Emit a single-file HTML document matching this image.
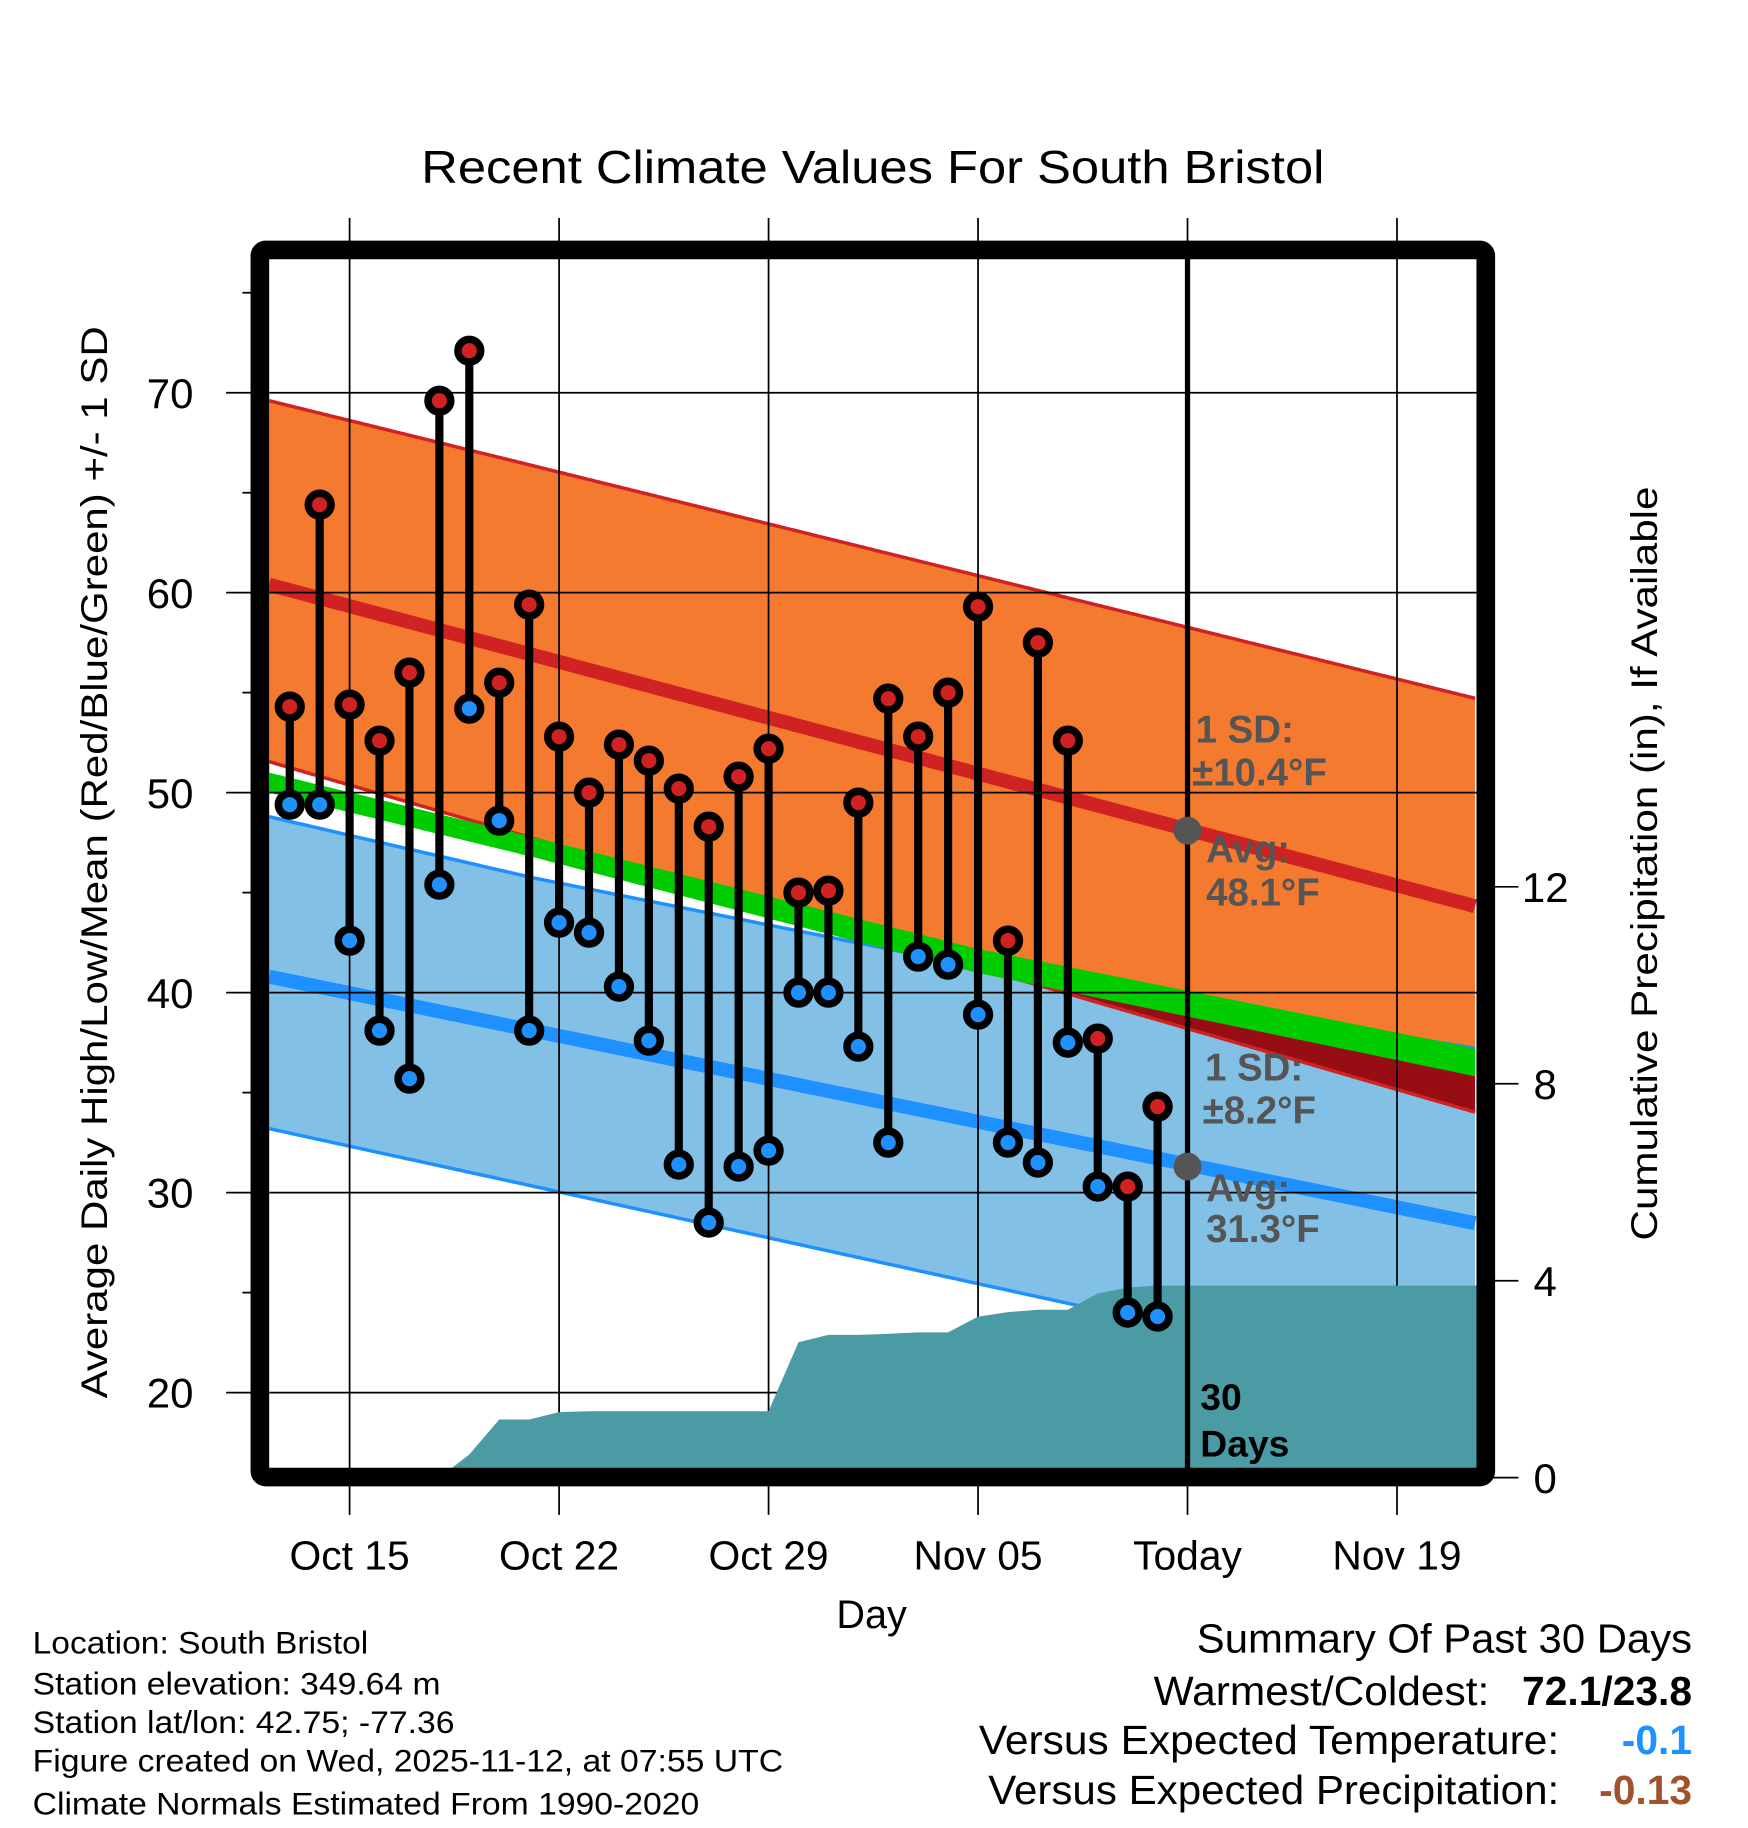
<!DOCTYPE html>
<html><head><meta charset="utf-8"><title>Recent Climate Values For South Bristol</title>
<style>
html,body{margin:0;padding:0;background:#fff;}
svg{display:block;}
text{font-family:"Liberation Sans",Arial,sans-serif;}
</style></head>
<body>
<svg id="chart" width="1748" height="1828" viewBox="0 0 1500 1568.66" xmlns="http://www.w3.org/2000/svg">
<defs><clipPath id="plotclip"><rect x="231" y="222" width="1036" height="1038"/></clipPath></defs>
<rect x="0" y="0" width="1500" height="1569" fill="#fff"/>
<text x="749" y="157" font-size="40" text-anchor="middle" textLength="775" lengthAdjust="spacingAndGlyphs">Recent Climate Values For South Bristol</text>
<g id="bands" clip-path="url(#plotclip)"></g>
<g id="grid" clip-path="url(#plotclip)"></g>
<g id="precip" clip-path="url(#plotclip)"></g>
<g id="axes"></g>
<g id="marks" clip-path="url(#plotclip)"></g>
<g id="annot">
 <g fill="#555" font-weight="bold" font-size="33">
  <text x="1026" y="637">1 SD:</text>
  <text x="1023" y="674">±10.4°F</text>
  <text x="1035" y="740">Avg:</text>
  <text x="1035" y="777">48.1°F</text>
  <text x="1034" y="927">1 SD:</text>
  <text x="1032" y="964">±8.2°F</text>
  <text x="1035" y="1031">Avg:</text>
  <text x="1035" y="1066">31.3°F</text>
 </g>
 <text x="1030" y="1210" font-size="32" font-weight="bold">30</text>
 <text x="1030" y="1250" font-size="32" font-weight="bold">Days</text>
</g>
<rect x="223" y="214.5" width="1052" height="1053" rx="5" fill="none" stroke="#000" stroke-width="16"/>
<text x="748" y="1397" font-size="34" text-anchor="middle">Day</text>
<text transform="translate(92,740) rotate(-90)" font-size="32" text-anchor="middle" textLength="920" lengthAdjust="spacingAndGlyphs">Average Daily High/Low/Mean (Red/Blue/Green) +/- 1 SD</text>
<text transform="translate(1422,741) rotate(-90)" font-size="32" text-anchor="middle" textLength="647" lengthAdjust="spacingAndGlyphs">Cumulative Precipitation (in), If Available</text>
<g font-size="27">
 <text x="28" y="1419" textLength="288" lengthAdjust="spacingAndGlyphs">Location: South Bristol</text>
 <text x="28" y="1454" textLength="350" lengthAdjust="spacingAndGlyphs">Station elevation: 349.64 m</text>
 <text x="28" y="1487" textLength="362" lengthAdjust="spacingAndGlyphs">Station lat/lon: 42.75; -77.36</text>
 <text x="28" y="1520" textLength="644" lengthAdjust="spacingAndGlyphs">Figure created on Wed, 2025-11-12, at 07:55 UTC</text>
 <text x="28" y="1557" textLength="572" lengthAdjust="spacingAndGlyphs">Climate Normals Estimated From 1990-2020</text>
</g>
<g font-size="35">
 <text x="1452" y="1418" text-anchor="end" textLength="425" lengthAdjust="spacingAndGlyphs">Summary Of Past 30 Days</text>
 <text x="1278" y="1463" text-anchor="end" textLength="288" lengthAdjust="spacingAndGlyphs">Warmest/Coldest:</text>
 <text x="1452" y="1463" text-anchor="end" font-weight="bold">72.1/23.8</text>
 <text x="1338" y="1505" text-anchor="end" textLength="498" lengthAdjust="spacingAndGlyphs">Versus Expected Temperature:</text>
 <text x="1452" y="1505" text-anchor="end" font-weight="bold" fill="#1e90ff">-0.1</text>
 <text x="1338" y="1548" text-anchor="end" textLength="490" lengthAdjust="spacingAndGlyphs">Versus Expected Precipitation:</text>
 <text x="1452" y="1548" text-anchor="end" font-weight="bold" fill="#a0522d">-0.13</text>
</g>
</svg>
<script>
// ---- data ----
const dayLabels = ["Oct 13","Oct 14","Oct 15","Oct 16","Oct 17","Oct 18","Oct 19","Oct 20","Oct 21","Oct 22","Oct 23","Oct 24","Oct 25","Oct 26","Oct 27","Oct 28","Oct 29","Oct 30","Oct 31","Nov 01","Nov 02","Nov 03","Nov 04","Nov 05","Nov 06","Nov 07","Nov 08","Nov 09","Nov 10","Nov 11"];
const highs = [54.3,64.4,54.4,52.6,56.0,69.6,72.1,55.5,59.4,52.8,50.0,52.4,51.6,50.2,48.3,50.8,52.2,45.0,45.1,49.5,54.7,52.8,55.0,59.3,42.6,57.5,52.6,37.7,30.3,34.3];
const lows = [49.4,49.4,42.6,38.1,35.7,45.4,54.2,48.6,38.1,43.5,43.0,40.3,37.6,31.4,28.5,31.3,32.1,40.0,40.0,37.3,32.5,41.8,41.4,38.9,32.5,31.5,37.5,30.3,24.0,23.8];
const precipCum = [0,0,0,0,0,0,0.47,1.18,1.18,1.33,1.35,1.35,1.35,1.35,1.35,1.35,1.35,2.75,2.9,2.9,2.92,2.95,2.95,3.27,3.36,3.41,3.41,3.74,3.86,3.9];
// normal band knots (day index, 0 = Oct 13)
const knotDays = [-0.69, 8.07, 22.95, 39.66];
const highUpper = [69.6, 66.37, 60.87, 54.7];
const highAvg = [60.4, 56.91, 50.97, 44.3];
const highLower = [51.55, 47.74, 41.27, 34.0];
const lowUpper = [48.8, 45.76, 41.3, 37.2];
const lowAvg = [40.8, 38.12, 33.56, 28.45];
const lowLower = [33.2, 30.34, 25.46, 20.0];
const meanTop = [51.0, 47.8, 42.2, 37.2];
const meanBot = [50.0, 46.8, 41.0, 35.8];
const todayIndex = 30;
const todayHighAvg = 48.1, todayLowAvg = 31.3;
const yTicks = [20,30,40,50,60,70];
const yMinor = [25,35,45,55,65,75];
const y2Ticks = [0,4,8,12];
const xTickDays = [2,9,16,23,30,37];
const xTickLabels = ["Oct 15","Oct 22","Oct 29","Nov 05","Today","Nov 19"];

// ---- scales ----
const X = i => 300 + (i - 2) * 25.68;
const Y = v => 337 + (70 - v) * 17.16;
const YP = p => 1268 - p * 42.25;
const NS = "http://www.w3.org/2000/svg";
function mk(tag, attrs, parent){const e=document.createElementNS(NS,tag);for(const k in attrs)e.setAttribute(k,attrs[k]);parent.appendChild(e);return e;}
function interp(arr, d){
  for(let k=0;k<knotDays.length-1;k++){
    if(d<=knotDays[k+1]||k===knotDays.length-2){
      const t=(d-knotDays[k])/(knotDays[k+1]-knotDays[k]);return arr[k]+t*(arr[k+1]-arr[k]);}
  }
}
const samples=[];for(let d=knotDays[0];d<=knotDays[3]+0.001;d+=0.1)samples.push(d);
function linePts(arr){return samples.map(d=>X(d).toFixed(1)+","+Y(interp(arr,d)).toFixed(1));}
function bandPts(top,bot){return linePts(top).concat(linePts(bot).reverse()).join(" ");}

const bands=document.getElementById('bands');
let p;
p=mk('polygon',{points:bandPts(highUpper,highLower),fill:'#f47a2f'},bands);


p=mk('polygon',{points:bandPts(lowUpper,lowLower),fill:'#82c0e6'},bands);


const ovTop=samples.map(d=>X(d).toFixed(1)+","+Y(interp(lowUpper,d)).toFixed(1));
const ovBot=samples.map(d=>{const a=Y(interp(lowUpper,d)),b=Y(interp(highLower,d));return X(d).toFixed(1)+","+Math.max(a,b).toFixed(1);}).reverse();
p=mk('polygon',{points:ovTop.concat(ovBot).join(" "),fill:'#960e14'},bands);


p=mk('polyline',{points:linePts(highUpper).join(" "),fill:'none',stroke:'#d02222','stroke-width':3},bands);


p=mk('polyline',{points:linePts(highLower).join(" "),fill:'none',stroke:'#d02222','stroke-width':3},bands);


p=mk('polyline',{points:linePts(lowUpper).join(" "),fill:'none',stroke:'#1e90ff','stroke-width':3},bands);


p=mk('polyline',{points:linePts(lowLower).join(" "),fill:'none',stroke:'#1e90ff','stroke-width':3},bands);


p=mk('polygon',{points:bandPts(meanTop,meanBot),fill:'#00cc00'},bands);


p=mk('polyline',{points:linePts(highAvg).join(" "),fill:'none',stroke:'#d02222','stroke-width':12},bands);


p=mk('polyline',{points:linePts(lowAvg).join(" "),fill:'none',stroke:'#1e90ff','stroke-width':12},bands);



// grid
const grid=document.getElementById('grid');
yTicks.forEach(v=>{const l=mk('line',{x1:231,x2:1267,y1:Y(v),y2:Y(v),stroke:'#000','stroke-width':1.5},grid);

});
xTickDays.forEach(d=>{const l=mk('line',{x1:X(d),x2:X(d),y1:222,y2:1260,stroke:'#000','stroke-width':1.5},grid);

});

// precip
const pg=document.getElementById('precip');
let pts=[X(-1)+","+YP(-0.3), X(-1)+","+YP(precipCum[0])];
precipCum.forEach((v,i)=>{pts.push(X(i).toFixed(1)+","+YP(v).toFixed(1));});
pts.push(X(40)+","+YP(precipCum[precipCum.length-1]));
pts.push(X(40)+","+YP(-0.3));
p=mk('polygon',{points:pts.join(" "),fill:'#4a9ba3'},pg);



// axes ticks & labels
const ax=document.getElementById('axes');
yTicks.forEach(v=>{
  const l=mk('line',{x1:194,x2:223,y1:Y(v),y2:Y(v),stroke:'#000','stroke-width':1.5},ax);
  
  
  const t=mk('text',{x:166,y:Y(v)+13,'font-size':36,'text-anchor':'end'},ax);t.textContent=v;
  
  
});
yMinor.forEach(v=>{const l=mk('line',{x1:208,x2:223,y1:Y(v),y2:Y(v),stroke:'#000','stroke-width':1.5},ax);
  
  });
y2Ticks.forEach(v=>{
  const l=mk('line',{x1:1275,x2:1303,y1:YP(v),y2:YP(v),stroke:'#000','stroke-width':1.5},ax);
  
  
  const t=mk('text',{x:1326,y:YP(v)+13,'font-size':36,'text-anchor':'middle'},ax);t.textContent=v;
  
  
});
xTickDays.forEach((d,k)=>{
  const l1=mk('line',{x1:X(d),x2:X(d),y1:187,y2:214,stroke:'#000','stroke-width':1.5},ax);
  
  
  const l2=mk('line',{x1:X(d),x2:X(d),y1:1268,y2:1300,stroke:'#000','stroke-width':1.5},ax);
  
  
  const t=mk('text',{x:X(d),y:1347,'font-size':35,'text-anchor':'middle'},ax);t.textContent=xTickLabels[k];
  
  
});

// marks
const mg=document.getElementById('marks');
const tl=mk('line',{x1:X(todayIndex),x2:X(todayIndex),y1:222,y2:1260,stroke:'#000','stroke-width':4.5},mg);


highs.forEach((h,i)=>{
  const s=mk('line',{x1:X(i),x2:X(i),y1:Y(h),y2:Y(lows[i]),stroke:'#000','stroke-width':7},mg);
  
  
});
highs.forEach((h,i)=>{
  const c=mk('circle',{cx:X(i),cy:Y(h),r:9.75,fill:'#d02222',stroke:'#000','stroke-width':6.5},mg);
  
  
  const c2=mk('circle',{cx:X(i),cy:Y(lows[i]),r:9.75,fill:'#1e90ff',stroke:'#000','stroke-width':6.5},mg);
  
  
});
const g1=mk('circle',{cx:X(todayIndex),cy:Y(todayHighAvg),r:12,fill:'#555'},mg);


const g2=mk('circle',{cx:X(todayIndex),cy:Y(todayLowAvg),r:12,fill:'#555'},mg);


</script>
</body></html>
